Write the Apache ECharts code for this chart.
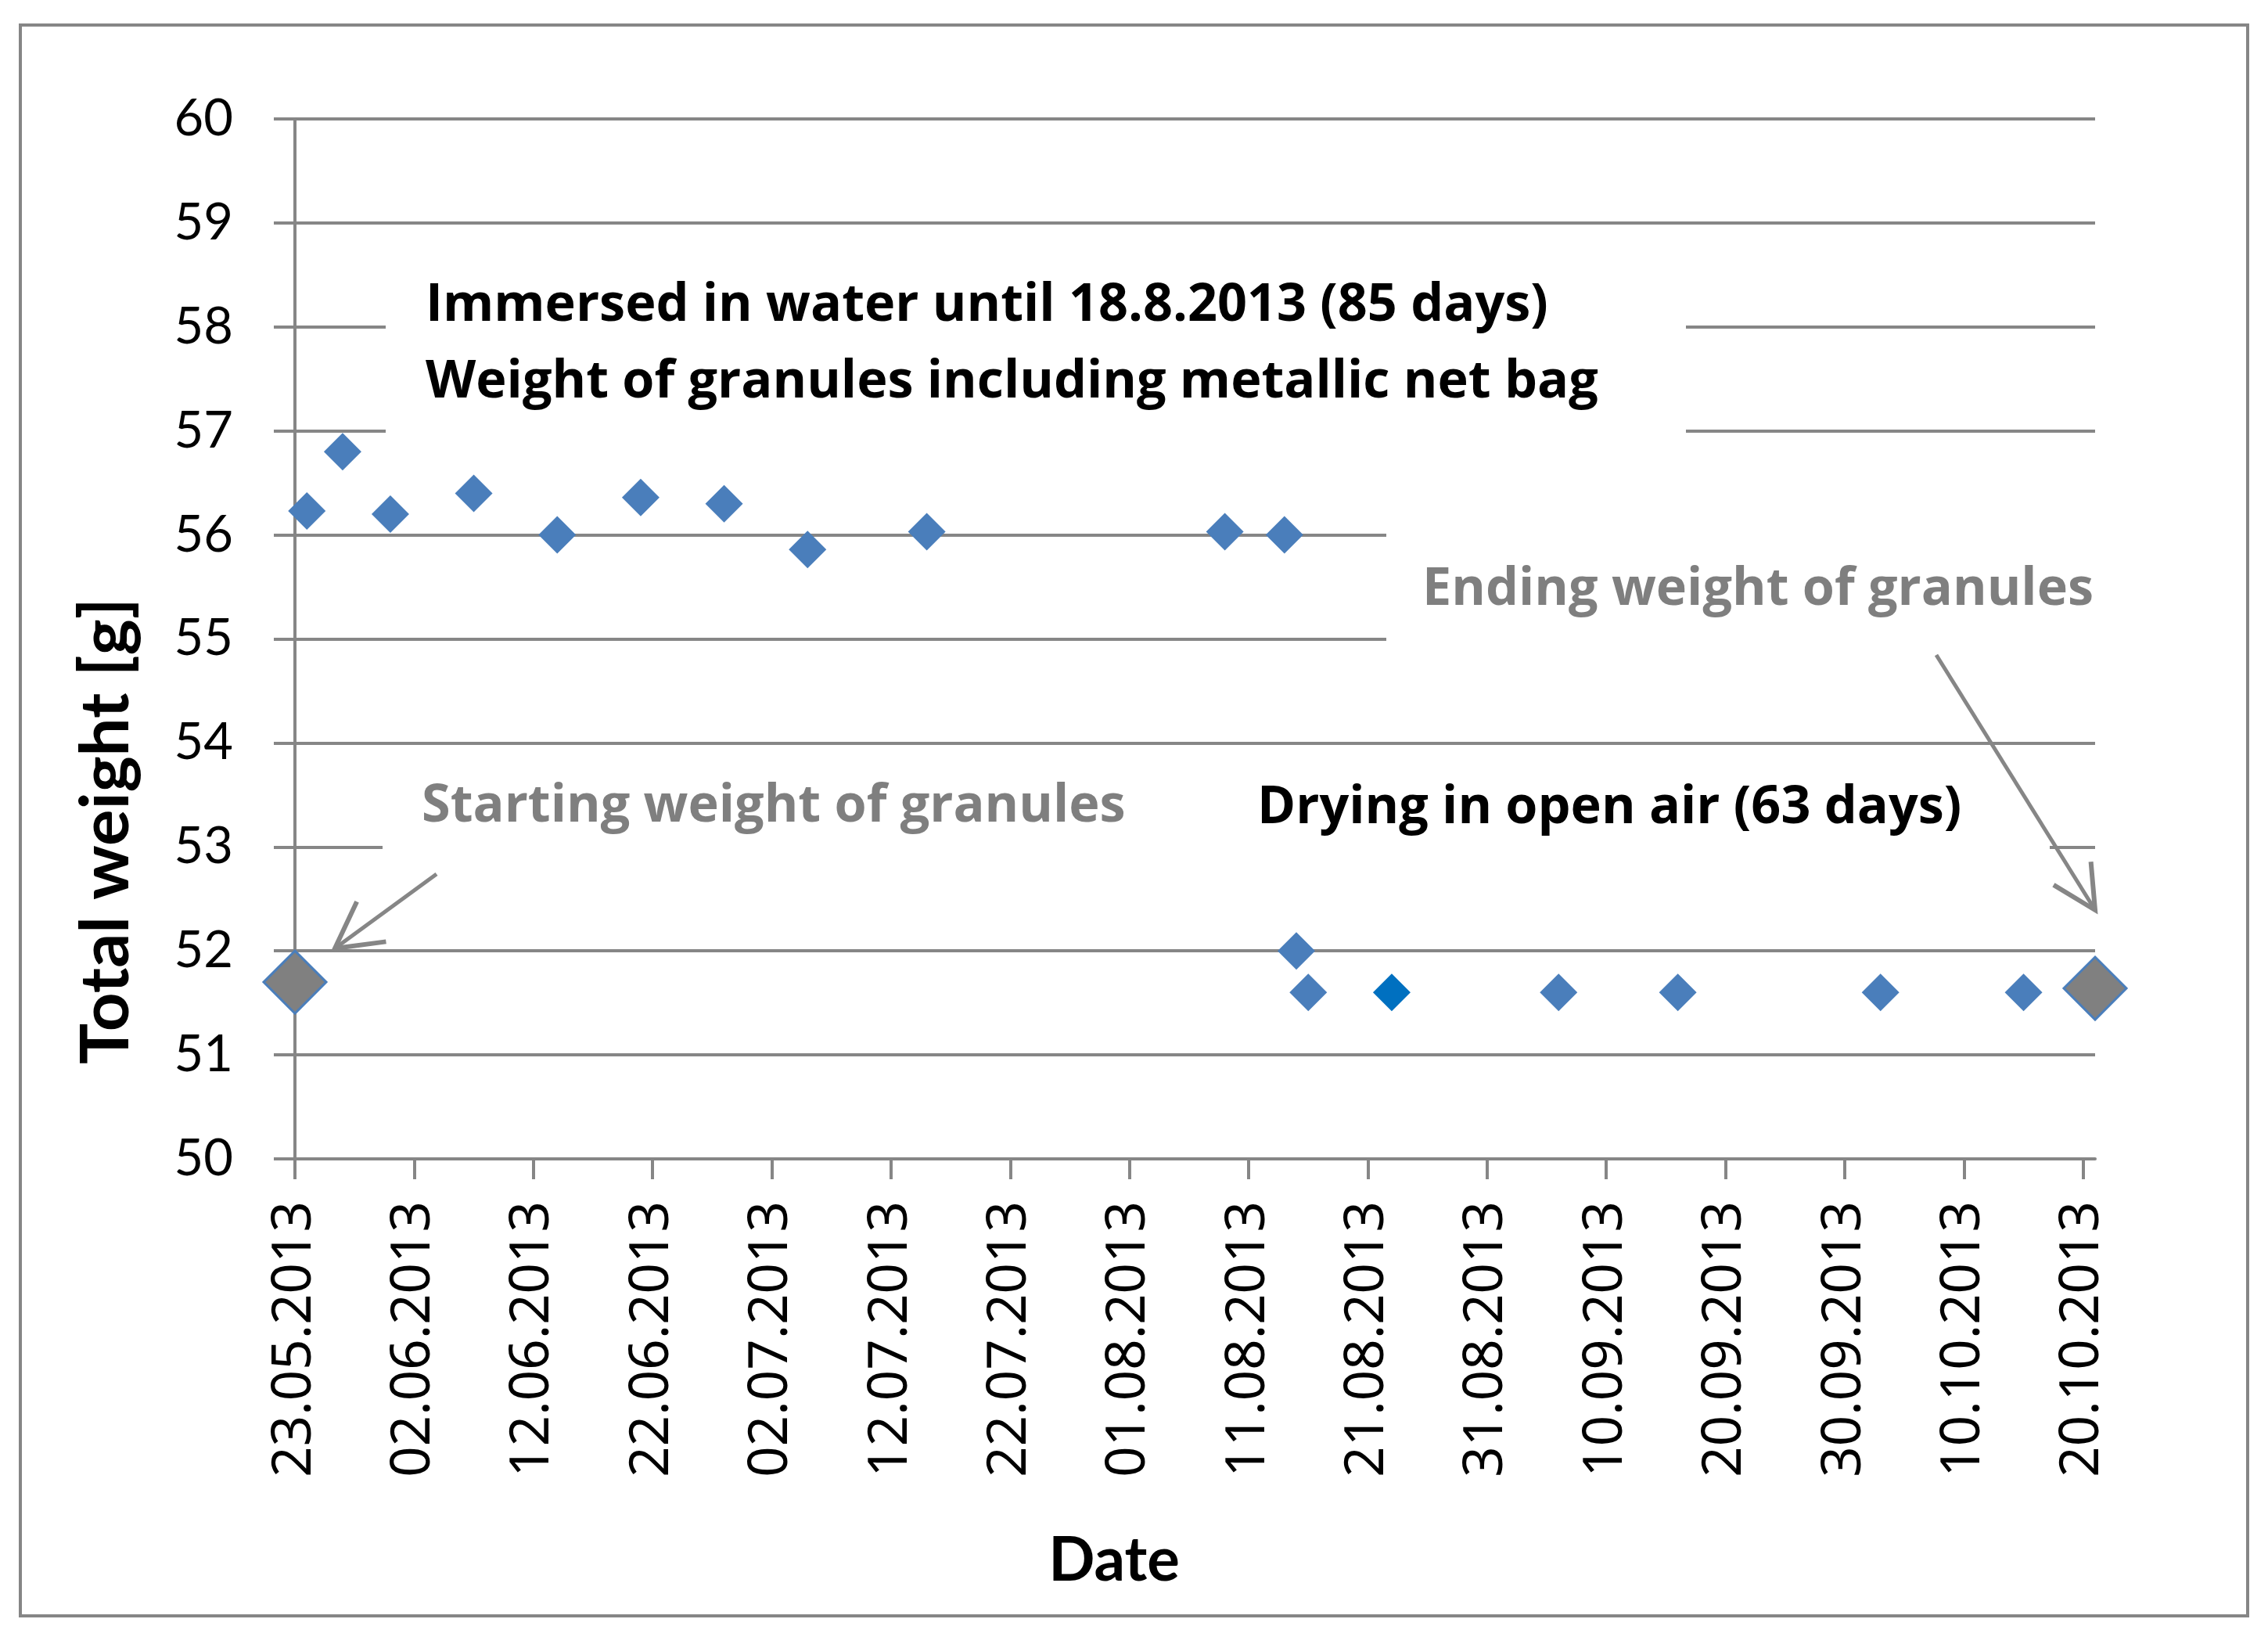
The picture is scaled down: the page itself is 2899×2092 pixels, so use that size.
<!DOCTYPE html>
<html><head><meta charset="utf-8">
<script src="https://cdn.jsdelivr.net/npm/echarts@6/dist/echarts.min.js"></script>
<style>html,body{margin:0;padding:0;background:#fff}#c{width:2899px;height:2092px}</style>
</head><body><div id="c"></div>
<script>
// ---------- data ----------
const startDate = '2013-05-23';
const axisEndDate = '2013-10-21';
const immersedDates = ['2013-05-24','2013-05-27','2013-05-31','2013-06-07','2013-06-14','2013-06-21','2013-06-28','2013-07-05','2013-07-15','2013-08-09','2013-08-14'];
const immersedWeights = [56.23, 56.8, 56.2, 56.4, 56.0, 56.36, 56.3, 55.86, 56.03, 56.03, 56.0];
const dryingDates = ['2013-08-15','2013-08-16','2013-08-23','2013-09-06','2013-09-16','2013-10-03','2013-10-15'];
const dryingWeights = [52.0, 51.6, 51.6, 51.6, 51.6, 51.6, 51.6];
const highlightDate = '2013-08-23';
const granuleDates = ['2013-05-23','2013-10-21'];
const granuleWeights = [51.7, 51.64];
const xTickDates = ['2013-05-23','2013-06-02','2013-06-12','2013-06-22','2013-07-02','2013-07-12','2013-07-22','2013-08-01','2013-08-11','2013-08-21','2013-08-31','2013-09-10','2013-09-20','2013-09-30','2013-10-10','2013-10-20'];
const yTicks = [50,51,52,53,54,55,56,57,58,59,60];

// ---------- helpers ----------
const DAY = 86400000;
function utc(s){ const p = s.split('-').map(Number); return Date.UTC(p[0], p[1]-1, p[2]); }
const t0 = utc(startDate);
function dayOf(s){ return Math.round((utc(s) - t0) / DAY); }
function fmt(d){ const dt = new Date(t0 + d*DAY); const dd = String(dt.getUTCDate()).padStart(2,'0'); const mm = String(dt.getUTCMonth()+1).padStart(2,'0'); return dd + '.' + mm + '.' + dt.getUTCFullYear(); }

const GRAY = '#868686';
const BLUE = '#4A7EBB';

const immersedData = immersedDates.map((d,i)=>[dayOf(d), immersedWeights[i]]);
const dryingData = dryingDates.map((d,i)=>{
  const item = {value:[dayOf(d), dryingWeights[i]]};
  if (d === highlightDate) item.itemStyle = {color:'#0070C0'};
  return item;
});
const granuleData = granuleDates.map((d,i)=>[dayOf(d), granuleWeights[i]]);
const xTickValues = xTickDates.map(dayOf);

const chart = echarts.init(document.getElementById('c'), null, {renderer:'canvas'});

function arrow(tail, tip, len, ang){
  const a = Math.atan2(tail[1]-tip[1], tail[0]-tip[0]);
  const w1 = [tip[0] + len*Math.cos(a+ang), tip[1] + len*Math.sin(a+ang)];
  const w2 = [tip[0] + len*Math.cos(a-ang), tip[1] + len*Math.sin(a-ang)];
  return [
    {type:'line', z:6, shape:{x1:tail[0], y1:tail[1], x2:tip[0], y2:tip[1]}, style:{stroke:GRAY, lineWidth:5}},
    {type:'polyline', z:6, shape:{points:[w1, tip, w2]}, style:{stroke:GRAY, lineWidth:6, fill:null}}
  ];
}

const annSize = 66.5;
const annFont = 'bold ' + annSize + 'px "Open Sans"';
const annOff = 18;
const titleFont = (s)=> 'bold ' + s + 'px Lato';

const graphics = [
  {type:'rect', z:0, silent:true, shape:{x:26, y:32, width:2847, height:2033}, style:{fill:null, stroke:GRAY, lineWidth:4}},
  // white text boxes that hide gridlines
  {type:'rect', z:1, shape:{x:493, y:320, width:1662, height:280}, style:{fill:'#fff'}},
  {type:'rect', z:1, shape:{x:1772, y:630, width:930, height:240}, style:{fill:'#fff'}},
  {type:'rect', z:1, shape:{x:489, y:975, width:1011, height:130}, style:{fill:'#fff'}},
  {type:'rect', z:1, shape:{x:1500, y:975, width:1120, height:130}, style:{fill:'#fff'}},
  // texts
  {type:'text', z:6, style:{text:'Immersed in water until 18.8.2013 (85 days)', x:544, y:409-annOff, font:annFont, fill:'#000', align:'left', verticalAlign:'middle'}},
  {type:'text', z:6, style:{text:'Weight of granules including metallic net bag', x:544, y:507-annOff, font:annFont, fill:'#000', align:'left', verticalAlign:'middle'}},
  {type:'text', z:6, style:{text:'Starting weight of granules', x:539, y:1049-annOff, font:annFont, fill:'#7F7F7F', align:'left', verticalAlign:'middle'}},
  {type:'text', z:6, style:{text:'Ending weight of granules', x:2676, y:772-annOff, font:annFont, fill:'#7F7F7F', align:'right', verticalAlign:'middle'}},
  {type:'text', z:6, style:{text:'Drying in open air (63 days)', x:1607, y:1051-annOff, font:annFont, fill:'#000', align:'left', verticalAlign:'middle'}},
  {type:'text', z:6, style:{text:'Date', x:1424, y:2023-28, font:titleFont(78), fill:'#000', align:'center', verticalAlign:'middle'}},
  {type:'text', z:6, rotation:Math.PI/2, x:136, y:1062, style:{text:'Total weight [g]', x:0, y:0, font:titleFont(87), fill:'#000', align:'center', verticalAlign:'middle'}},
  ...arrow([558,1117],[428,1212],66,0.5),
  ...arrow([2475,837],[2678,1163],62,0.47)
];

chart.setOption({
  animation:false,
  backgroundColor:'#fff',
  grid:{left:377, right:221, top:152, bottom:611, containLabel:false, outerBoundsMode:'none'},
  xAxis:{
    type:'value', min:0, max:dayOf(axisEndDate), interval:10,
    axisLine:{show:true, lineStyle:{color:GRAY, width:4}},
    axisTick:{show:true, length:26, lineStyle:{color:GRAY, width:4}, customValues:xTickValues},
    axisLabel:{rotate:90, margin:54, fontFamily:'Noto Sans', fontSize:69, color:'#000', formatter:(v)=>fmt(v), customValues:xTickValues},
    splitLine:{show:false}
  },
  yAxis:{
    type:'value', min:yTicks[0], max:yTicks[yTicks.length-1], interval:1,
    axisLine:{show:true, lineStyle:{color:GRAY, width:4}},
    axisTick:{show:true, length:27, lineStyle:{color:GRAY, width:4}},
    axisLabel:{margin:79, fontFamily:'Lato', fontSize:65, color:'#000'},
    splitLine:{show:true, lineStyle:{color:GRAY, width:4}}
  },
  series:[
    {name:'Immersed', type:'scatter', symbol:'diamond', symbolSize:48, itemStyle:{color:BLUE, opacity:1}, data:immersedData, z:3},
    {name:'Drying', type:'scatter', symbol:'diamond', symbolSize:48, itemStyle:{color:BLUE, opacity:1}, data:dryingData, z:3},
    {name:'Granules', type:'scatter', symbol:'diamond', symbolSize:80, itemStyle:{color:'#808080', borderColor:BLUE, borderWidth:3, opacity:1}, data:granuleData, z:4}
  ],
  graphic:graphics
});
</script></body></html>
